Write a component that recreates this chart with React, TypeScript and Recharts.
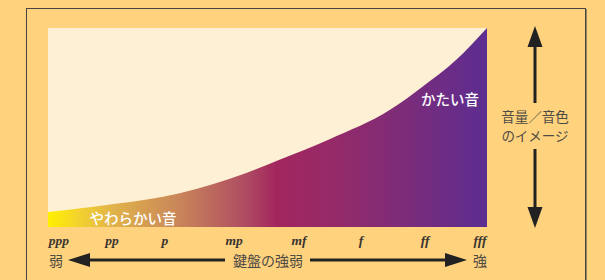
import React from "react";
import { AreaChart, Area, XAxis, YAxis, CartesianGrid } from "recharts";

// Curve of "sound volume / timbre image" versus key strength
const curveX = [0, 15, 30, 45, 53, 64, 78, 85, 93, 100];
const curveV = [7.5, 11.5, 17, 27, 34, 44, 59, 70, 84, 100];

// Dynamic markings along the keyboard-strength axis
const dynamicLabels = ["ppp", "pp", "p", "mp", "mf", "f", "ff", "fff"];
const dynamicPositions = [2.5, 14.6, 26.6, 42.4, 57.2, 71.3, 85.9, 98.4];

const data = curveX.map((x, i) => ({ x, v: curveV[i] }));

const ORANGE = "#FFD27E";
const CREAM = "#FEF0D4";
const TEXT = "#4e4a44";
const JP = "'Noto Sans CJK JP', 'Noto Sans', sans-serif";

const DynTick = (props: any) => {
  const { x, y, payload } = props;
  const idx = dynamicPositions.indexOf(payload.value);
  return (
    <text
      x={x}
      y={y + 10}
      textAnchor="middle"
      fontFamily="'Liberation Serif', 'DejaVu Serif', serif"
      fontStyle="italic"
      fontWeight="bold"
      fontSize={13.5}
      fill="#3a3530"
    >
      {dynamicLabels[idx]}
    </text>
  );
};

export default function App() {
  return (
    <div
      style={{
        position: "fixed",
        left: 0,
        top: 0,
        width: 605,
        height: 280,
        background: ORANGE,
        overflow: "hidden",
      }}
    >
      <div
        style={{
          position: "absolute",
          left: 26,
          top: 8,
          width: 558,
          height: 300,
          border: "1px solid #4a4540",
          boxShadow: "1px 1px 0 #9a8560",
        }}
      />
      <div style={{ position: "absolute", left: 0, top: 0 }}>
        <AreaChart
          width={605}
          height={280}
          data={data}
          margin={{ top: 28, left: 48, right: 118, bottom: 33 }}
        >
          <defs>
            <linearGradient id="dynGrad" x1="0" y1="0" x2="1" y2="0">
              <stop offset="0" stopColor="#FFF000" />
              <stop offset="0.07" stopColor="#F2D22E" />
              <stop offset="0.15" stopColor="#E1B24A" />
              <stop offset="0.3" stopColor="#C8855A" />
              <stop offset="0.45" stopColor="#AE4C62" />
              <stop offset="0.52" stopColor="#A2265E" />
              <stop offset="0.65" stopColor="#952A68" />
              <stop offset="0.8" stopColor="#7E2C78" />
              <stop offset="1" stopColor="#5C2D91" />
            </linearGradient>
          </defs>
          <CartesianGrid horizontal={false} vertical={false} fill={CREAM} />
          <XAxis
            dataKey="x"
            type="number"
            domain={[0, 100]}
            ticks={dynamicPositions}
            tick={<DynTick />}
            axisLine={false}
            tickLine={false}
            height={20}
            interval={0}
          />
          <YAxis hide domain={[0, 100]} />
          <Area
            type="monotone"
            dataKey="v"
            stroke="none"
            fill="url(#dynGrad)"
            fillOpacity={1}
            isAnimationActive={false}
          />
        </AreaChart>
      </div>
      <svg
        width={605}
        height={280}
        style={{ position: "absolute", left: 0, top: 0, pointerEvents: "none" }}
      >
        <g fontFamily={JP} fill="#ffffff" fontWeight={500} fontSize={14.5}>
          <text x={133} y={217} textAnchor="middle" dominantBaseline="central">
            やわらかい音
          </text>
          <text x={450} y={98} textAnchor="middle" dominantBaseline="central">
            かたい音
          </text>
        </g>
        <g fontFamily={JP} fill={TEXT} fontSize={14}>
          <text x={56} y={260} textAnchor="middle" dominantBaseline="central">
            弱
          </text>
          <text x={268} y={260} textAnchor="middle" dominantBaseline="central">
            鍵盤の強弱
          </text>
          <text x={480} y={260} textAnchor="middle" dominantBaseline="central">
            強
          </text>
        </g>
        <g fontFamily={JP} fill={TEXT} fontSize={13.5}>
          <text x={535} y={116} textAnchor="middle" dominantBaseline="central">
            音量／音色
          </text>
          <text x={535} y={135} textAnchor="middle" dominantBaseline="central">
            のイメージ
          </text>
        </g>
        <g fill="#222" stroke="#222">
          <line x1={86} y1={260} x2={225} y2={260} strokeWidth={3} />
          <polygon points="68,260 90,253 90,267" stroke="none" />
          <line x1={310} y1={260} x2={449} y2={260} strokeWidth={3} />
          <polygon points="467,260 445,253 445,267" stroke="none" />
          <line x1={535} y1={44} x2={535} y2={103} strokeWidth={3} />
          <polygon points="535,26 527.5,47 542.5,47" stroke="none" />
          <line x1={535} y1={149} x2={535} y2={210} strokeWidth={3} />
          <polygon points="535,228 527.5,207 542.5,207" stroke="none" />
        </g>
      </svg>
    </div>
  );
}
